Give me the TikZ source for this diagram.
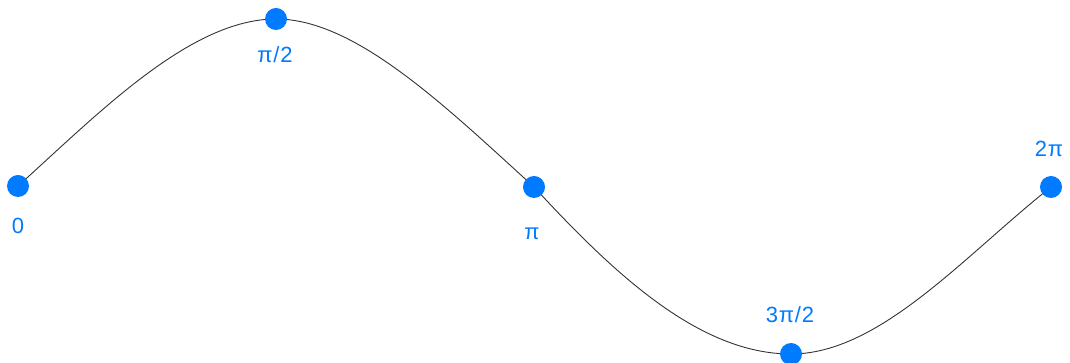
\documentclass[tikz,border=0pt]{standalone}
\usepackage{fontspec}
\usepackage{tikz}
\usetikzlibrary{backgrounds}

\newfontfamily\labelfont[LetterSpace=4]{Liberation Sans}
\definecolor{dotblue}{RGB}{0,122,255}

\begin{document}
\begin{tikzpicture}[
    x=1pt, y=1pt,
    sinedot/.style={circle, fill=dotblue, inner sep=0pt, minimum size=22pt},
    sinelabel/.style={anchor=base, inner sep=0pt, text=dotblue, font=\labelfont\fontsize{22}{26}\selectfont},
    sinecurve/.style={draw=black!80, line width=0.9pt}
  ]
    \useasboundingbox (0,0) rectangle (1070,363);
    \node[sinedot] (zero) at (18,177) {};
    \node[sinedot] (halfpi) at (276,344) {};
    \node[sinedot] (onepi) at (534,176) {};
    \node[sinedot] (threehalfpi) at (791,9) {};
    \node[sinedot] (twopi) at (1051,176) {};
    \node[sinelabel] (zerolabel) at (18,129) {0};
    \node[sinelabel] (halfpilabel) at (275,300) {π/2};
    \node[sinelabel] (onepilabel) at (532,123) {π};
    \node[sinelabel] (threehalfpilabel) at (790,40) {3π/2};
    \node[sinelabel] (twopilabel) at (1049,206) {2π};
    \begin{pgfonlayer}{background}
      \draw[sinecurve] (zero.center) .. controls +(80,72) and +(-86,0) .. (halfpi.center)
        .. controls +(79,0) and +(-90,82) .. (onepi.center)
        .. controls +(81,-88) and +(-91,0) .. (threehalfpi.center)
        .. controls +(89,0) and +(-86,-68) .. (twopi.center);
    \end{pgfonlayer}
\end{tikzpicture}
\end{document}
